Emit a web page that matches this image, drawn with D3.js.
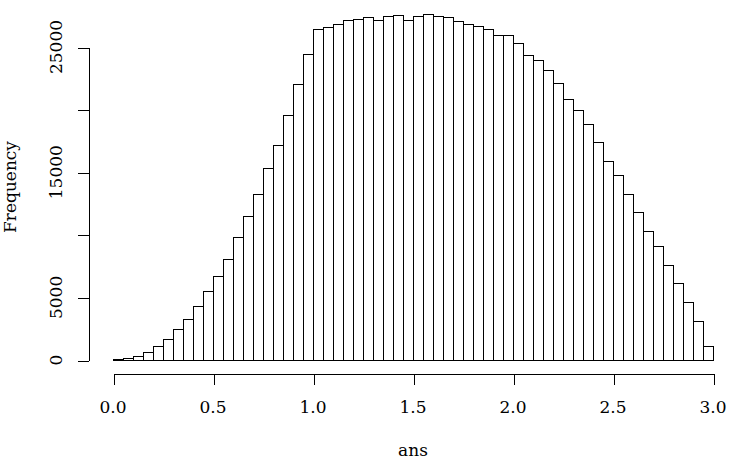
<!DOCTYPE html>
<html>
<head>
<meta charset="utf-8">
<script src="https://cdn.jsdelivr.net/npm/d3@7"></script>
<style>
  html, body { margin: 0; padding: 0; background: #fff; }
  svg { display: block; }
  text { font-family: "DejaVu Serif", serif; font-size: 17px; fill: #000; }
</style>
</head>
<body>
<script>
// Histogram of "ans": bins of width 0.05 from 0 to 3
const binStart = 0;
const binWidth = 0.05;
const counts = [40, 150, 295, 665, 1090, 1700, 2500, 3300, 4290, 5540,
                6710, 8070, 9800, 11480, 13260, 15340, 17170, 19600, 22040, 24440,
                26410, 26620, 26810, 27180, 27240, 27370, 27160, 27480, 27580, 27160,
                27450, 27640, 27480, 27370, 27050, 26860, 26650, 26460, 25980, 25980,
                25290, 24390, 23960, 23140, 22120, 20820, 19940, 18820, 17390, 15890,
                14800, 13260, 11800, 10330, 9105, 7560, 6180, 4660, 3090, 1120];
const xTicks = [0, 0.5, 1, 1.5, 2, 2.5, 3];
const xTickLabels = ["0.0", "0.5", "1.0", "1.5", "2.0", "2.5", "3.0"];
const yTicks = [0, 5000, 10000, 15000, 20000, 25000];
const yTickLabels = [0, 5000, 15000, 25000];
const xTitle = "ans";
const yTitle = "Frequency";

const W = 732, H = 466;
const svg = d3.select("body").append("svg").attr("width", W).attr("height", H);

const x = d3.scaleLinear().domain([0, 3]).range([113, 713]);
const y = d3.scaleLinear().domain([0, 25000]).range([360, 47]);

const bins = counts.map((c, i) => ({ x0: binStart + i * binWidth, x1: binStart + (i + 1) * binWidth, n: c }));

// bars
svg.append("g").selectAll("rect").data(bins).join("rect")
  .attr("x", d => Math.round(x(d.x0)) + 0.5)
  .attr("y", d => Math.round(y(d.n)) + 0.5)
  .attr("width", d => Math.round(x(d.x1)) - Math.round(x(d.x0)))
  .attr("height", d => Math.round(y(0)) - Math.round(y(d.n)))
  .attr("fill", "#fff")
  .attr("stroke", "#000")
  .attr("stroke-width", 1);

// x axis
const xAxis = svg.append("g").attr("transform", "translate(0.5,373.5)")
  .call(d3.axisBottom(x).tickValues(xTicks).tickFormat("").tickSize(11).tickSizeOuter(0));
xAxis.selectAll("path, line").attr("stroke", "#000").attr("shape-rendering", "crispEdges");
svg.append("g").selectAll("text").data(xTicks).join("text")
  .attr("x", d => x(d)).attr("y", 413)
  .attr("text-anchor", "middle")
  .text((d, i) => xTickLabels[i]);

// y axis
const yAxis = svg.append("g").attr("transform", "translate(88.5,0.5)")
  .call(d3.axisLeft(y).tickValues(yTicks).tickFormat("").tickSize(11).tickSizeOuter(0));
yAxis.selectAll("path, line").attr("stroke", "#000").attr("shape-rendering", "crispEdges");
svg.append("g").selectAll("text").data(yTickLabels).join("text")
  .attr("transform", d => `translate(62,${y(d)}) rotate(-90)`)
  .attr("text-anchor", "middle")
  .text(d => String(d));

// titles
svg.append("text").attr("x", x(1.5)).attr("y", 456).attr("text-anchor", "middle").text(xTitle);
svg.append("text").attr("transform", "translate(16,187) rotate(-90)")
  .attr("text-anchor", "middle").text(yTitle);
</script>
</body>
</html>
